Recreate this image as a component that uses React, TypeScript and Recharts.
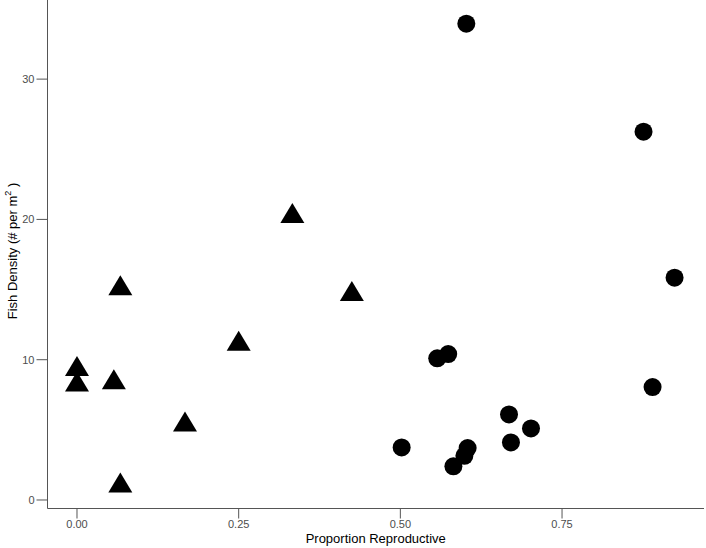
import React from 'react';
import { ScatterChart, Scatter, XAxis, YAxis, Label } from 'recharts';

// non-reproductive sites (triangles) and reproductive sites (circles)
const triangleX = [0.0, 0.0, 0.057, 0.067, 0.067, 0.167, 0.25, 0.333, 0.425];
const triangleY = [9.55, 8.45, 8.6, 15.3, 1.25, 5.6, 11.35, 20.45, 14.9];

const circleX = [0.602, 0.876, 0.924, 0.557, 0.574, 0.89, 0.668, 0.702, 0.671, 0.502, 0.604, 0.599, 0.582];
const circleY = [33.95, 26.25, 15.85, 10.1, 10.4, 8.05, 6.1, 5.1, 4.1, 3.75, 3.7, 3.15, 2.4];

const xTicks = [0, 0.25, 0.5, 0.75];
const yTicks = [0, 10, 20, 30];

const triangles = triangleX.map((x, i) => ({ x, y: triangleY[i] }));
const circles = circleX.map((x, i) => ({ x, y: circleY[i] }));

const FONT = '"Liberation Sans", Arial, sans-serif';
const AXIS = '#555';

const Triangle = (props: any) => {
  const { cx, cy } = props;
  const w = 12;
  const h = 10;
  return <path d={`M${cx},${cy - h}L${cx + w},${cy + h}L${cx - w},${cy + h}Z`} fill="#000" />;
};

const Dot = (props: any) => <circle cx={props.cx} cy={props.cy} r={9} fill="#000" />;

const YTitle = () => (
  <text
    x={0}
    y={0}
    transform="translate(17,251) rotate(-90)"
    textAnchor="middle"
    fontFamily={FONT}
    fontSize={13}
    fill="#000"
  >
    Fish Density (# per m
    <tspan fontSize={9} dy={-6}>2</tspan>
    <tspan dy={6}> )</tspan>
  </text>
);

const XTitle = (props: any) => {
  const vb = props.viewBox || { x: 47.5, width: 656.5 };
  return (
    <text x={vb.x + vb.width / 2} y={543} textAnchor="middle" fontFamily={FONT} fontSize={13} fill="#000">
      Proportion Reproductive
    </text>
  );
};

export default function App() {
  return (
    <div style={{ position: 'absolute', left: 0, top: 0, background: '#fff' }}>
      <ScatterChart width={706} height={548} margin={{ top: 0, right: 2, bottom: 0, left: 0 }}>
        <XAxis
          type="number"
          dataKey="x"
          domain={[-0.0456, 0.9695]}
          ticks={xTicks}
          tickFormatter={(v: number) => v.toFixed(2)}
          tickSize={10}
          height={39.5}
          stroke={AXIS}
          tick={{ fill: '#4d4d4d', fontSize: 11, fontFamily: FONT }}
          tickLine={{ stroke: AXIS }}
          allowDataOverflow
        >
          <Label content={<XTitle />} />
        </XAxis>
        <YAxis
          type="number"
          dataKey="y"
          domain={[-0.606, 35.64]}
          ticks={yTicks}
          tickSize={11}
          width={47.5}
          stroke={AXIS}
          tick={{ fill: '#4d4d4d', fontSize: 11, fontFamily: FONT }}
          tickLine={{ stroke: AXIS }}
          allowDataOverflow
        >
          <Label content={<YTitle />} />
        </YAxis>
        <Scatter data={triangles} shape={<Triangle />} isAnimationActive={false} />
        <Scatter data={circles} shape={<Dot />} isAnimationActive={false} />
      </ScatterChart>
    </div>
  );
}
